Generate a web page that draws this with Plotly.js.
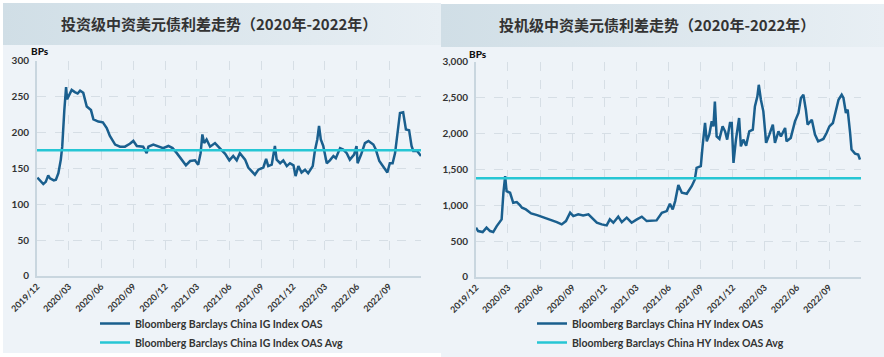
<!DOCTYPE html>
<html>
<head>
<meta charset="utf-8">
<script src="https://cdn.plot.ly/plotly-3.0.1.min.js"></script>
<style>
  html, body { margin: 0; padding: 0; background: #ffffff; }
  #wrap { position: relative; width: 884px; height: 357px; overflow: hidden; background: #ffffff; }
  .panel { position: absolute; background: #eef3f8; }
  .bar { position: absolute; background: linear-gradient(to right, #d0dee6, #e8eff4); }
  #chart { position: absolute; left: 0; top: 0; width: 884px; height: 357px; }
</style>
</head>
<body>
<div id="wrap">
  <div class="panel" style="left:3px; top:3px; width:438px; height:350px;"></div>
  <div class="bar" style="left:3px; top:3px; width:438px; height:42px;"></div>
  <div class="panel" style="left:441px; top:4px; width:443px; height:353px;"></div>
  <div class="bar" style="left:441px; top:4px; width:443px; height:43px;"></div>
  <div id="chart"></div>
</div>
<script>
// ---- Data ----
const titleIG = "投资级中资美元债利差走势（2020年-2022年）";
const titleHY = "投机级中资美元债利差走势（2020年-2022年）";
const nameIG = "Bloomberg Barclays China IG Index OAS";
const nameIGAvg = "Bloomberg Barclays China IG Index OAS Avg";
const nameHY = "Bloomberg Barclays China HY Index OAS";
const nameHYAvg = "Bloomberg Barclays China HY Index OAS Avg";

const tickDates = ["2019-12-01","2020-03-01","2020-06-01","2020-09-01","2020-12-01","2021-03-01","2021-06-01","2021-09-01","2021-12-01","2022-03-01","2022-06-01","2022-09-01","2022-12-01"];
const tickLabels = ["2019/12","2020/03","2020/06","2020/09","2020/12","2021/03","2021/06","2021/09","2021/12","2022/03","2022/06","2022/09",""];

const igDates = ["2019-12-02","2019-12-10","2019-12-19","2019-12-26","2020-01-02","2020-01-07","2020-01-12","2020-01-18","2020-01-24","2020-01-31","2020-02-07","2020-02-11","2020-02-17","2020-02-22","2020-02-25","2020-03-02","2020-03-09","2020-03-18","2020-03-26","2020-04-02","2020-04-11","2020-04-21","2020-05-03","2020-05-10","2020-05-24","2020-06-06","2020-06-17","2020-06-26","2020-07-11","2020-07-25","2020-08-08","2020-08-22","2020-09-01","2020-09-11","2020-09-29","2020-10-09","2020-10-14","2020-10-28","2020-11-11","2020-11-25","2020-12-10","2020-12-22","2021-01-03","2021-01-14","2021-01-29","2021-02-10","2021-02-24","2021-03-05","2021-03-12","2021-03-17","2021-03-22","2021-03-29","2021-04-08","2021-04-22","2021-05-06","2021-05-21","2021-06-02","2021-06-13","2021-06-23","2021-07-02","2021-07-17","2021-07-26","2021-08-14","2021-08-24","2021-09-07","2021-09-15","2021-09-21","2021-10-01","2021-10-10","2021-10-15","2021-10-25","2021-11-03","2021-11-13","2021-11-22","2021-12-02","2021-12-08","2021-12-16","2021-12-25","2022-01-04","2022-01-13","2022-01-26","2022-02-01","2022-02-08","2022-02-13","2022-02-18","2022-02-25","2022-03-07","2022-03-16","2022-03-26","2022-04-02","2022-04-14","2022-04-23","2022-05-03","2022-05-12","2022-05-24","2022-05-31","2022-06-03","2022-06-13","2022-06-24","2022-07-04","2022-07-18","2022-07-25","2022-08-04","2022-08-15","2022-08-27","2022-09-03","2022-09-11","2022-09-18","2022-09-25","2022-10-02","2022-10-11","2022-10-19","2022-10-28","2022-11-04","2022-11-09","2022-11-20","2022-12-01"];
const igValues = [137,133,128,131,140,136,135,133,134,143,162,180,231,263,246,252,259,256,254,258,255,236,231,218,215,214,206,195,183,180,180,184,188,181,180,171,180,183,180,178,181,178,171,164,154,160,161,155,171,197,185,190,180,185,177,170,161,167,161,171,162,151,141,148,151,163,153,155,181,162,157,161,153,157,154,139,153,144,148,143,153,174,190,209,190,181,157,161,167,164,178,176,171,162,169,181,157,169,185,188,183,176,160,152,144,157,157,171,204,227,228,204,203,181,174,174,167];
const igAvgDates = ["2019-12-01","2022-12-01"];
const igAvgValues = [175,175];

const hyDates = ["2019-12-01","2019-12-07","2019-12-20","2019-12-31","2020-01-10","2020-01-19","2020-01-29","2020-02-05","2020-02-12","2020-02-17","2020-02-19","2020-02-22","2020-02-26","2020-03-07","2020-03-16","2020-03-26","2020-04-04","2020-04-10","2020-04-21","2020-05-06","2020-05-23","2020-06-09","2020-06-29","2020-07-18","2020-08-01","2020-08-13","2020-08-25","2020-09-03","2020-09-17","2020-10-01","2020-10-16","2020-10-25","2020-11-09","2020-11-23","2020-12-07","2020-12-16","2020-12-26","2021-01-09","2021-01-19","2021-02-02","2021-02-16","2021-03-03","2021-03-17","2021-03-31","2021-04-14","2021-04-28","2021-05-13","2021-05-27","2021-06-05","2021-06-13","2021-06-20","2021-06-29","2021-07-09","2021-07-23","2021-08-06","2021-08-15","2021-08-20","2021-09-01","2021-09-06","2021-09-13","2021-09-18","2021-09-25","2021-10-02","2021-10-07","2021-10-11","2021-10-16","2021-10-24","2021-11-02","2021-11-09","2021-11-15","2021-11-23","2021-11-28","2021-12-03","2021-12-10","2021-12-19","2021-12-24","2021-12-31","2022-01-08","2022-01-17","2022-01-27","2022-02-02","2022-02-09","2022-02-13","2022-02-19","2022-02-26","2022-03-06","2022-03-15","2022-03-25","2022-03-31","2022-04-10","2022-04-17","2022-04-29","2022-05-03","2022-05-15","2022-05-27","2022-06-06","2022-06-13","2022-06-20","2022-06-27","2022-07-02","2022-07-14","2022-07-23","2022-08-01","2022-08-16","2022-08-25","2022-09-02","2022-09-12","2022-09-20","2022-09-28","2022-10-07","2022-10-12","2022-10-19","2022-10-24","2022-10-31","2022-11-04","2022-11-14","2022-11-23","2022-11-28"];
const hyValues = [686,639,625,686,639,625,708,755,801,1172,1264,1403,1194,1172,1033,1042,1000,964,940,885,860,833,801,764,732,778,894,847,871,857,871,825,755,732,718,801,755,839,764,825,755,801,839,778,778,787,894,917,1020,940,1056,1280,1172,1158,1264,1357,1519,1542,1819,2144,1889,1982,2167,2097,2444,1958,1922,2097,2028,1912,2144,2144,1589,1912,2214,1819,1912,1829,2028,2051,2375,2514,2676,2468,2306,1867,1982,2121,1867,2028,1958,2075,1889,1936,2167,2283,2492,2537,2329,2121,2190,1982,1889,1922,2005,2097,2144,2329,2468,2537,2492,2283,2329,2005,1774,1718,1704,1635];
const hyAvgDates = ["2019-12-01","2022-12-01"];
const hyAvgValues = [1375,1375];

// ---- Styling ----
const dark = "#1a5f8e";
const cyan = "#26c6d4";
const txt = "#333333";
const fontFam = "Lato, 'Noto Sans CJK SC', sans-serif";
const gridCol = "#d6dee5";
const axisCol = "#c9d6df";

function xAxis(domain, anchor) {
  return {
    domain: domain, anchor: anchor, type: "date",
    range: ["2019-12-01", "2022-12-01"],
    tickvals: tickDates, ticktext: tickLabels, tickangle: -45,
    tickfont: {family: fontFam, size: 9, color: txt, weight: "bold"},
    showgrid: true, gridcolor: gridCol, griddash: "dash", gridwidth: 1,
    showline: true, linecolor: axisCol, linewidth: 2,
    ticks: "", zeroline: false, fixedrange: true
  };
}
function yAxis(domain, anchor, range, dtick, fmt) {
  return {
    domain: domain, anchor: anchor, range: range, dtick: dtick, tick0: 0,
    tickformat: fmt,
    tickfont: {family: fontFam, size: 10, color: txt, weight: "bold"},
    showgrid: true, gridcolor: gridCol, griddash: "dash", gridwidth: 1,
    showline: true, linecolor: axisCol, linewidth: 2,
    ticks: "", ticklen: 0, zeroline: false, fixedrange: true, ticklabelstandoff: 4
  };
}

const traces = [
  {x: igDates, y: igValues, type: "scatter", mode: "lines", name: nameIG,
   line: {color: dark, width: 2.5}, xaxis: "x", yaxis: "y", legend: "legend"},
  {x: igAvgDates, y: igAvgValues, type: "scatter", mode: "lines", name: nameIGAvg,
   line: {color: cyan, width: 2.5}, xaxis: "x", yaxis: "y", legend: "legend"},
  {x: hyDates, y: hyValues, type: "scatter", mode: "lines", name: nameHY,
   line: {color: dark, width: 2.5}, xaxis: "x2", yaxis: "y2", legend: "legend2"},
  {x: hyAvgDates, y: hyAvgValues, type: "scatter", mode: "lines", name: nameHYAvg,
   line: {color: cyan, width: 2.5}, xaxis: "x2", yaxis: "y2", legend: "legend2"}
];

const W = 884, H = 357;
const px = v => v / W, py = v => 1 - v / H;

const legendBase = {
  orientation: "v", xanchor: "left", yanchor: "top",
  bgcolor: "rgba(0,0,0,0)", borderwidth: 0,
  font: {family: fontFam, size: 10.5, color: txt, weight: "bold"},
  itemwidth: 30, tracegroupgap: 0, traceorder: "normal"
};

const layout = {
  width: W, height: H,
  margin: {l: 0, r: 0, t: 0, b: 0},
  paper_bgcolor: "rgba(0,0,0,0)", plot_bgcolor: "rgba(0,0,0,0)",
  showlegend: true,
  xaxis: xAxis([px(37), px(421)], "y"),
  yaxis: yAxis([py(276.7), py(60.7)], "x", [0, 300], 50, "d"),
  xaxis2: xAxis([px(476), px(861)], "y2"),
  yaxis2: yAxis([py(277.7), py(61.7)], "x2", [0, 3000], 500, ",d"),
  legend: Object.assign({}, legendBase, {x: px(95), y: py(309)}),
  legend2: Object.assign({}, legendBase, {x: px(532), y: py(310)}),
  annotations: [
    {text: titleIG, x: px(219), y: py(24), xref: "paper", yref: "paper", showarrow: false,
     xanchor: "center", yanchor: "middle",
     font: {family: "'Noto Sans CJK SC', sans-serif", size: 15, color: txt, weight: "bold"}},
    {text: titleHY, x: px(657), y: py(25), xref: "paper", yref: "paper", showarrow: false,
     xanchor: "center", yanchor: "middle",
     font: {family: "'Noto Sans CJK SC', sans-serif", size: 15, color: txt, weight: "bold"}},
    {text: "BPs", x: px(29), y: py(51), xref: "paper", yref: "paper", showarrow: false,
     xanchor: "left", yanchor: "middle",
     font: {family: fontFam, size: 10, color: "#111111", weight: 900}},
    {text: "BPs", x: px(467), y: py(54), xref: "paper", yref: "paper", showarrow: false,
     xanchor: "left", yanchor: "middle",
     font: {family: fontFam, size: 10, color: "#111111", weight: 900}}
  ]
};

Plotly.newPlot("chart", traces, layout, {displayModeBar: false, staticPlot: true});
</script>
</body>
</html>
